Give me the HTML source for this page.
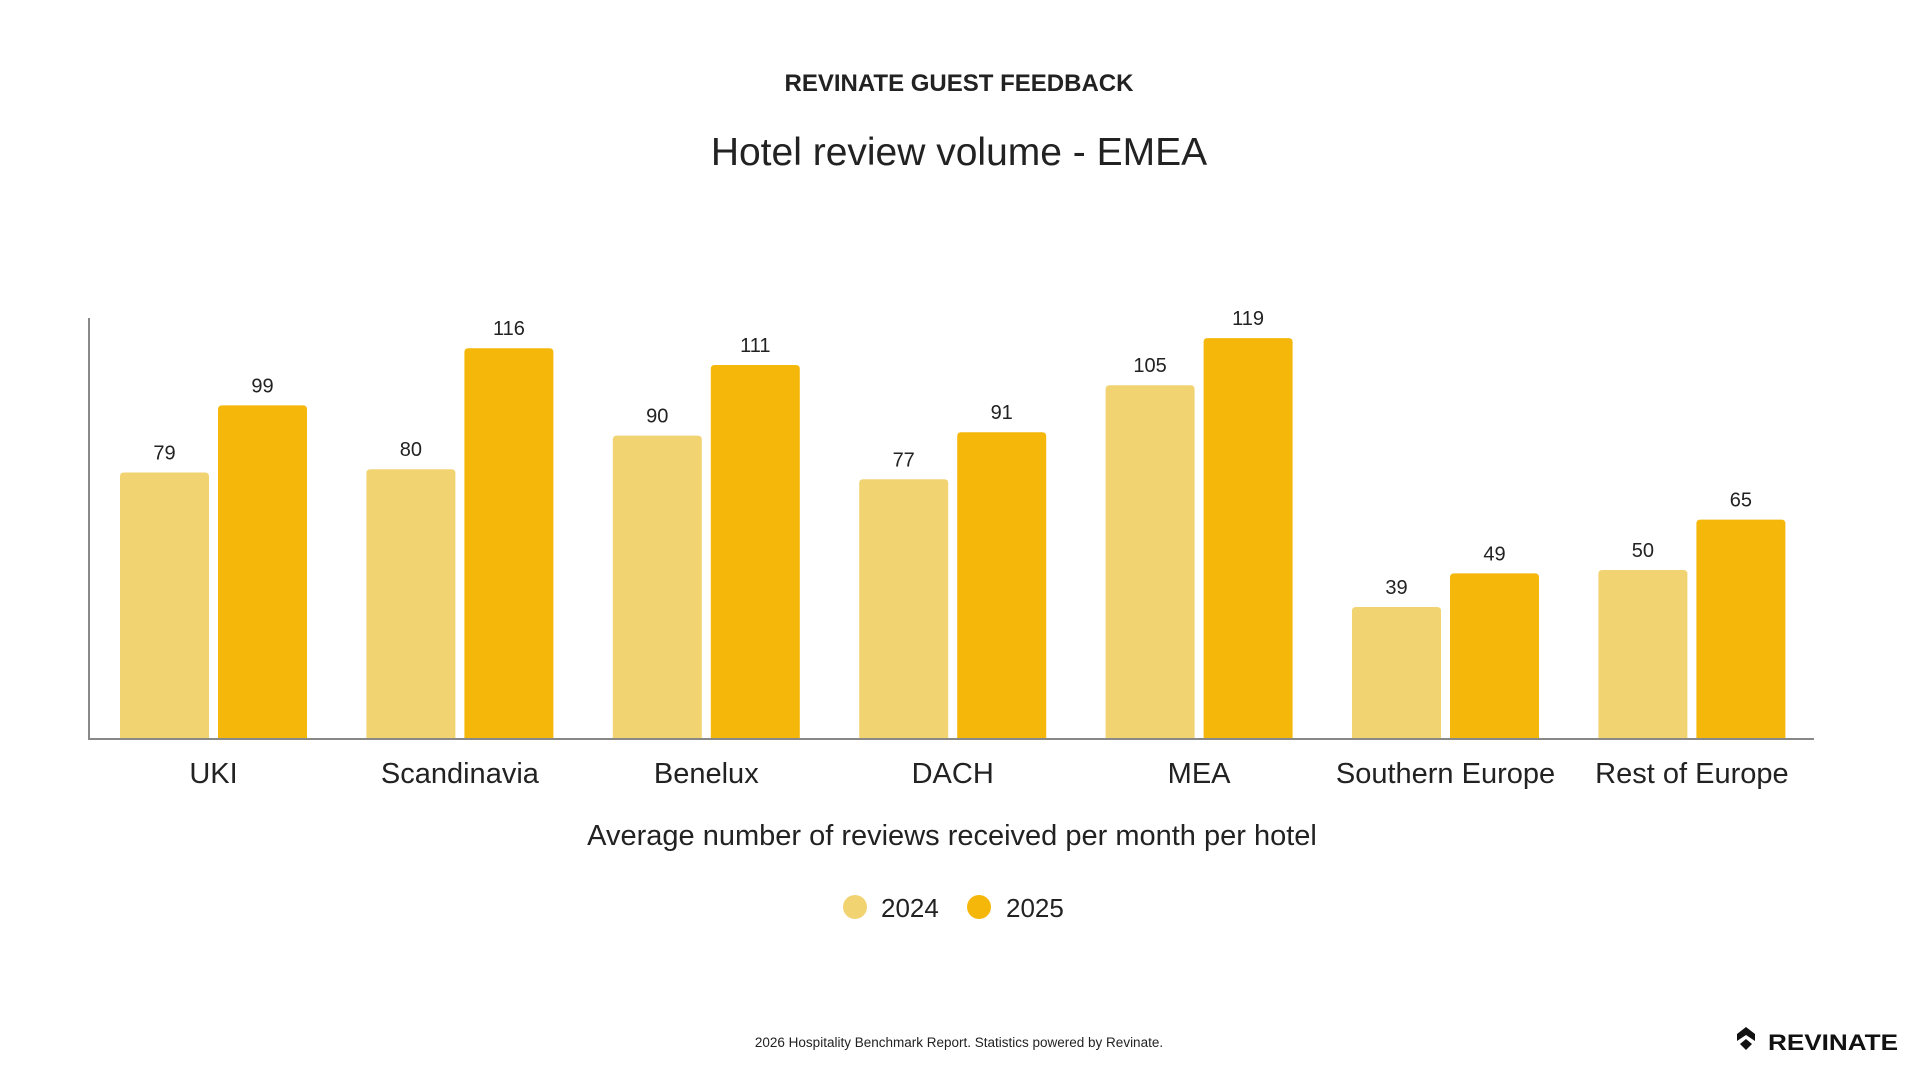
<!DOCTYPE html>
<html><head><meta charset="utf-8"><style>
html,body{margin:0;padding:0;background:#fff;}
body{width:1920px;height:1080px;overflow:hidden;font-family:"Liberation Sans",sans-serif;color:#222;}
</style></head><body>
<svg id="chart" width="1920" height="1080" xmlns="http://www.w3.org/2000/svg">
<text x="959" y="91" text-anchor="middle" font-size="24" font-weight="bold" fill="#222">REVINATE GUEST FEEDBACK</text>
<text x="959" y="165" text-anchor="middle" font-size="39" fill="#222">Hotel review volume - EMEA</text>
<g id="bars"></g>
<line x1="89" y1="318" x2="89" y2="739" stroke="#888" stroke-width="2"/>
<line x1="88" y1="739" x2="1814" y2="739" stroke="#888" stroke-width="2"/>
<text x="952" y="845" text-anchor="middle" font-size="29" fill="#222">Average number of reviews received per month per hotel</text>
<g>
<circle cx="855" cy="907" r="12" fill="#F2D372"/>
<text x="881" y="917" font-size="26" fill="#222">2024</text>
<circle cx="979" cy="907" r="12" fill="#F5B70A"/>
<text x="1006" y="917" font-size="26" fill="#222">2025</text>
</g>
<text x="959" y="1047" text-anchor="middle" font-size="13.5" fill="#222">2026 Hospitality Benchmark Report. Statistics powered by Revinate.</text>
<g>
<path d="M1737 1034 L1746 1027 L1755 1034 L1755 1041 L1746 1035 L1737 1041 Z" fill="#111"/>
<path d="M1740 1044 L1746 1039 L1752 1044 L1746 1050 Z" fill="#111"/>
<text x="1768" y="1050" font-size="22" font-weight="bold" textLength="130" lengthAdjust="spacingAndGlyphs" fill="#111">REVINATE</text>
</g>
</svg>
<script>
const categories=["UKI","Scandinavia","Benelux","DACH","MEA","Southern Europe","Rest of Europe"];
const values2024=[79,80,90,77,105,39,50];
const values2025=[99,116,111,91,119,49,65];
const ns="http://www.w3.org/2000/svg";
const g=document.getElementById('bars');
const baseY=738, pxPerUnit=3.36, groupStart=120, groupStep=246.4, barW=89, gap=9;
function yScale(v){return baseY-v*pxPerUnit;}
function xGroup(i){return groupStart+i*groupStep;}
function mk(tag,attrs){const e=document.createElementNS(ns,tag);for(const k in attrs)e.setAttribute(k,attrs[k]);return e;}
categories.forEach((c,i)=>{
  [[values2024,"#F2D372","2024"],[values2025,"#F5B70A","2025"]].forEach((s,j)=>{
    const v=s[0][i];const x=xGroup(i)+j*(barW+gap);const y=yScale(v);
    const r=mk('path',{d:`M${x} ${baseY} L${x} ${y+4} Q${x} ${y} ${x+4} ${y} L${x+barW-4} ${y} Q${x+barW} ${y} ${x+barW} ${y+4} L${x+barW} ${baseY} Z`,fill:s[1]});
    
    
    g.appendChild(r);
    const t=mk('text',{x:x+barW/2,y:y-13,'text-anchor':'middle','font-size':20,fill:'#222'});
    t.textContent=v;
    
    
    g.appendChild(t);
  });
  const l=mk('text',{x:xGroup(i)+barW+gap/2,y:783,'text-anchor':'middle','font-size':29,fill:'#222'});
  l.textContent=c;
  
  
  g.appendChild(l);
});
</script>
</body></html>
